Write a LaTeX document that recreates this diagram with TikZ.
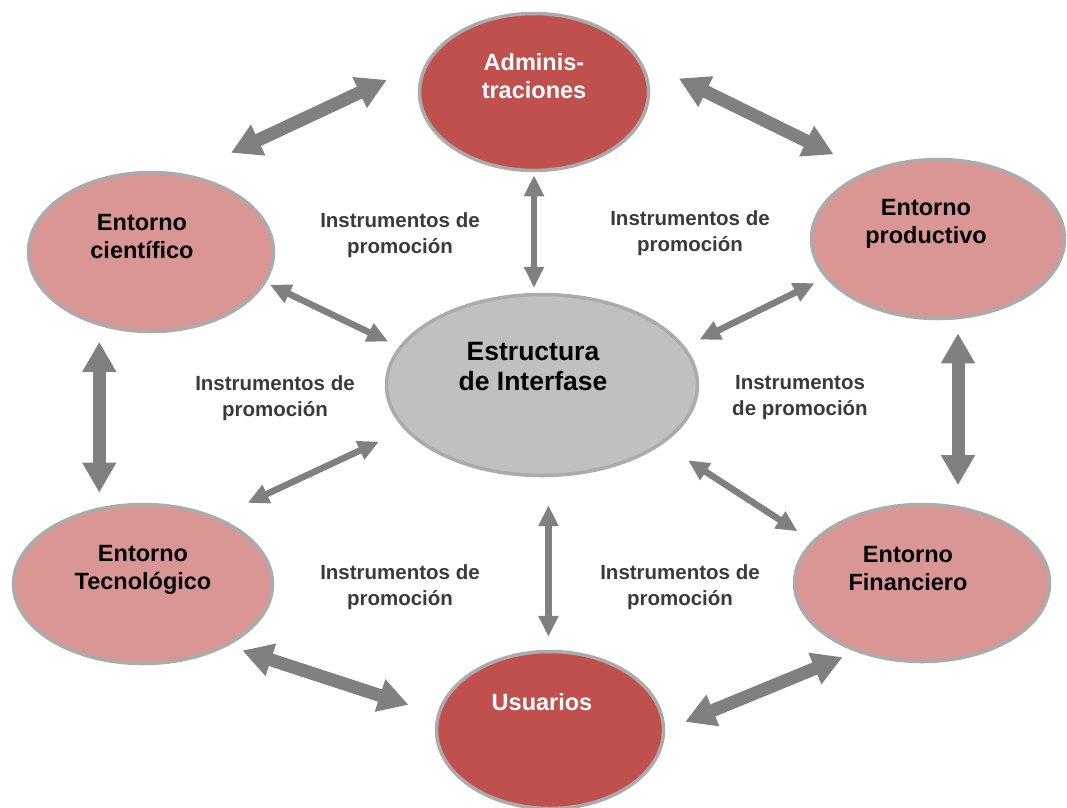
\documentclass[tikz,border=0pt]{standalone}
\usepackage{fontspec}
\setmainfont{Liberation Sans}
\usetikzlibrary{arrows.meta,shapes.geometric}
\definecolor{darkred}{HTML}{C0504D}
\definecolor{lightred}{HTML}{D99694}
\definecolor{centergray}{HTML}{C0C0C0}
\definecolor{rimgray}{HTML}{ABABAB}
\definecolor{arrowgray}{HTML}{808080}
\definecolor{labelgray}{HTML}{3A3A3A}
\begin{document}
\begin{tikzpicture}[x=1pt, y=-1pt,
    env/.style={ellipse, draw=rimgray, line width=3.5pt, inner sep=0pt},
    envtext/.style={align=center, inner sep=0pt, font=\fontsize{23.5}{28}\selectfont\bfseries},
    promo/.style={align=center, inner sep=0pt, text=labelgray, font=\fontsize{20.5}{26}\selectfont\bfseries},
    bigarrow/.style={draw=arrowgray, line width=13pt, {Triangle[width=32pt,length=30pt]}-{Triangle[width=32pt,length=30pt]}},
    smallarrow/.style={draw=arrowgray, line width=6.5pt, {Triangle[width=19pt,length=21pt]}-{Triangle[width=19pt,length=21pt]}}]
    \useasboundingbox (0,0) rectangle (1067,807);
    \node[env, fill=darkred, minimum width=229pt, minimum height=157pt] (admin) at (534,92) {};
    \node[env, fill=lightred, minimum width=245pt, minimum height=159pt] (cient) at (151,252) {};
    \node[env, fill=lightred, minimum width=253pt, minimum height=159pt] (prod) at (938,239) {};
    \node[env, fill=centergray, minimum width=311pt, minimum height=181pt] (inter) at (542,385) {};
    \node[env, fill=lightred, minimum width=259pt, minimum height=159pt] (tec) at (143,584) {};
    \node[env, fill=lightred, minimum width=255pt, minimum height=157pt] (fin) at (922,583) {};
    \node[env, fill=darkred, minimum width=227pt, minimum height=157pt] (usu) at (550,730) {};

    \node[envtext, text=white] (admin-t) at (534,76) {Adminis-\\traciones};
    \node[envtext] (cient-t) at (142,237) {Entorno\\científico};
    \node[envtext] (prod-t) at (926,224) {Entorno\\productivo};
    \node[envtext, font=\fontsize{26.5}{30}\selectfont\bfseries] (inter-t) at (533,367) {Estructura\\de Interfase};
    \node[envtext] (tec-t) at (143,570) {Entorno\\Tecnológico};
    \node[envtext] (fin-t) at (908,569) {Entorno\\Financiero};
    \node[envtext, text=white] (usu-t) at (542,702) {Usuarios};

    \node[promo] (l1) at (400,235) {Instrumentos de\\promoción};
    \node[promo] (l2) at (690,233) {Instrumentos de\\promoción};
    \node[promo] (l3) at (275,398) {Instrumentos de\\promoción};
    \node[promo] (l4) at (800,398) {Instrumentos\\de promoción};
    \node[promo] (l5) at (400,587) {Instrumentos de\\promoción};
    \node[promo] (l6) at (680,587) {Instrumentos de\\promoción};

    \draw[bigarrow, shorten <=50pt, shorten >=44pt] (cient.66.6) -- (admin.164.1);
    \draw[bigarrow, shorten <=43pt, shorten >=38pt] (admin.17.4) -- (prod.136.6);
    \draw[bigarrow, shorten <=16pt, shorten >=14.5pt] (cient.235.4) -- (cient.235.4 |- tec.119.3);
    \draw[bigarrow, shorten <=14pt, shorten >=21pt] (prod.284) -- (prod.284 |- fin.64.9);
    \draw[bigarrow, shorten <=15pt, shorten >=30pt] (tec.324.5) -- (usu.172.8);
    \draw[bigarrow, shorten <=21.5pt, shorten >=14pt] (usu.0) -- (fin.226.1);

    \draw[smallarrow, shorten <=3pt, shorten >=5pt] (admin.270) -- (admin.270 |- inter.94.4);
    \draw[smallarrow, shorten <=4.5pt, shorten >=12pt] (cient.345.4) -- (inter.165.3);
    \draw[smallarrow, shorten <=16pt, shorten >=12pt] (inter.15.9) -- (prod.199.1);
    \draw[smallarrow, shorten <=33.5pt, shorten >=28pt] (tec.42.3) -- (inter.198.4);
    \draw[smallarrow, shorten <=30pt, shorten >=17.5pt] (inter.334.2) -- (fin.159.5);
    \draw[smallarrow, shorten <=28pt, shorten >=13pt] (inter.274.4) -- (inter.274.4 |- usu.90);
\end{tikzpicture}
\end{document}
